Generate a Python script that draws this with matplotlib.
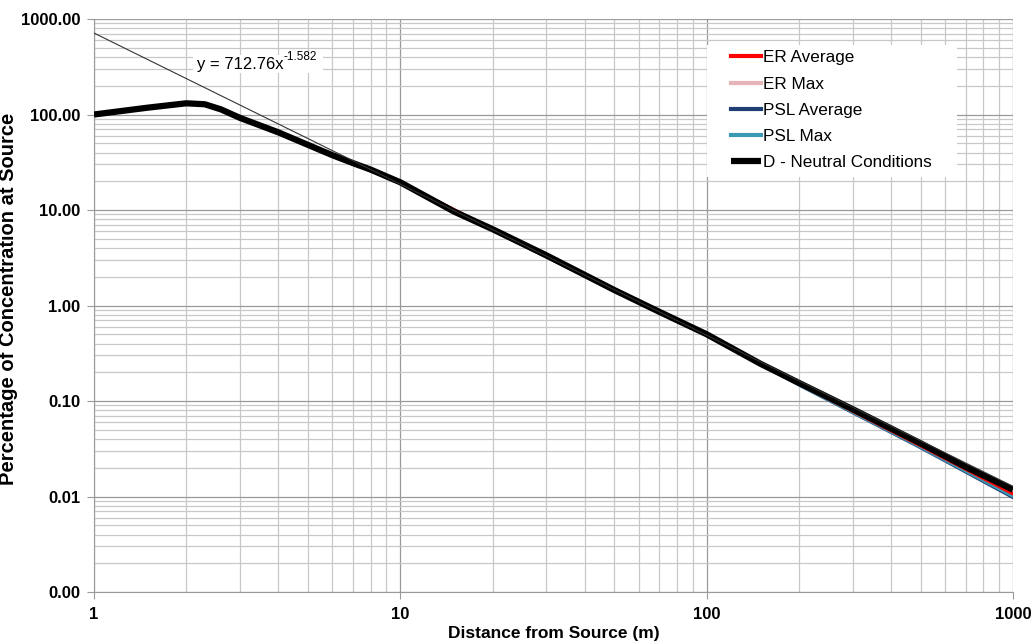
"""
Dispersion plot: concentration (% of source) vs distance, log-log,
with a power-law trendline.
"""

import numpy as np
import matplotlib.pyplot as plt
import matplotlib.ticker as ticker
from matplotlib.patches import Rectangle

# ── data ─────────────────────────────────────────────────────────────────────
dist_d = [1, 1.5, 2, 2.3, 2.6, 3, 4, 5, 6, 7, 8, 10, 15, 20, 30, 50, 70,
          100, 150, 200, 300, 500, 700, 1000]
conc_d = [100, 118, 131, 128, 113, 92, 65, 48, 37.5, 31, 26.5, 19.5, 9.6,
          6.3, 3.35, 1.45, 0.86, 0.50, 0.245, 0.155, 0.082, 0.036, 0.0205,
          0.0118]

dist_ser = [5, 7, 10, 20, 50, 100, 200, 500, 1000]
er_avg  = [48, 31, 19.4, 6.25, 1.44, 0.495, 0.152, 0.034, 0.0107]
er_max  = [48, 31, 19.4, 6.25, 1.44, 0.495, 0.151, 0.0335, 0.0104]
psl_avg = [48, 31, 19.3, 6.2, 1.43, 0.490, 0.148, 0.0325, 0.0098]
psl_max = [48, 31, 19.3, 6.2, 1.43, 0.492, 0.149, 0.033, 0.0101]

# trendline coefficients as reported on the chart
trend_a = 712.76
trend_b = -1.582

# ── plot ─────────────────────────────────────────────────────────────────────
plt.rcParams["font.family"] = ["Liberation Sans", "DejaVu Sans"]

fig = plt.figure(figsize=(10.34, 6.44), dpi=100)
ax = fig.add_axes([0.0909, 0.0807, 0.8888, 0.8898])

ax.set_xscale("log")
ax.set_yscale("log")
ax.set_xlim(1, 1000)
ax.set_ylim(0.001, 1000)

ax.plot(dist_ser, er_avg,  color="#ff0000", lw=2.5, label="ER Average", zorder=3)
ax.plot(dist_ser, er_max,  color="#e6b3b6", lw=2.5, label="ER Max", zorder=2)
ax.plot(dist_ser, psl_avg, color="#1f3e74", lw=2.5, label="PSL Average", zorder=2)
ax.plot(dist_ser, psl_max, color="#3a9ab5", lw=2.5, label="PSL Max", zorder=2)
ax.plot(dist_d, conc_d, color="black", lw=4.5, solid_capstyle="butt",
        label="D - Neutral Conditions", zorder=4)

xt = np.logspace(0, 3, 200)
ax.plot(xt, trend_a * xt ** trend_b, color="#333333", lw=0.8, zorder=5)

# trendline label with white box
ax.add_patch(Rectangle((193 / 1034, 1 - 73 / 644), 130 / 1034, 18 / 644,
                       transform=fig.transFigure, facecolor="white",
                       edgecolor="none", zorder=6))
t1 = ax.text(2.17, 330, f"y = {trend_a}x", fontsize=12, va="center",
             ha="left", zorder=7)
ax.annotate(f"{trend_b}", xy=(1, 0.62), xycoords=t1, fontsize=8.5,
            va="bottom", ha="left", zorder=7)

# grid
ax.grid(True, which="major", color="#9a9a9a", lw=0.9)
ax.grid(True, which="minor", color="#c8c8c8", lw=0.9)
ax.set_axisbelow(True)
for s in ["top", "right"]:
    ax.spines[s].set_visible(False)
for s in ["left", "bottom"]:
    ax.spines[s].set_color("#9a9a9a")

ax.xaxis.set_major_locator(ticker.LogLocator(base=10, numticks=10))
ax.xaxis.set_minor_locator(ticker.LogLocator(base=10, subs=np.arange(2, 10), numticks=20))
ax.yaxis.set_major_locator(ticker.LogLocator(base=10, numticks=10))
ax.yaxis.set_minor_locator(ticker.LogLocator(base=10, subs=np.arange(2, 10), numticks=20))
ax.xaxis.set_major_formatter(ticker.FuncFormatter(lambda v, p: f"{v:g}"))
ax.yaxis.set_major_formatter(ticker.FuncFormatter(lambda v, p: f"{v:.2f}"))
ax.xaxis.set_minor_formatter(ticker.NullFormatter())
ax.yaxis.set_minor_formatter(ticker.NullFormatter())
ax.tick_params(which="major", length=5, color="#9a9a9a", labelsize=12)
ax.tick_params(which="minor", length=0)
ax.tick_params(axis="x", pad=6)
ax.tick_params(axis="y", pad=5)
for lab in ax.get_xticklabels() + ax.get_yticklabels():
    lab.set_fontweight("bold")

ax.set_xlabel("Distance from Source (m)", fontsize=12.5, fontweight="bold")
ax.set_ylabel("Percentage of Concentration at Source", fontsize=14.5,
              fontweight="bold")
ax.xaxis.set_label_coords(0.5, -0.059)
ax.yaxis.set_label_coords(-0.083, 0.511)

# legend: white panel plus frameless legend on top
ax.add_patch(Rectangle((707 / 1034, 1 - 177 / 644), 250 / 1034, 132 / 644,
                       transform=fig.transFigure, facecolor="white",
                       edgecolor="none", zorder=8))
leg = ax.legend(loc="upper left", bbox_to_anchor=(727 / 1034, 1 - 46 / 644),
                bbox_transform=fig.transFigure, fontsize=12.3, frameon=False,
                handlelength=1.75, handletextpad=0.12, labelspacing=0.66,
                borderpad=0.25, borderaxespad=0)
for h in leg.get_lines():
    h.set_linewidth(3)
leg.get_lines()[-1].set_linewidth(4.5)
leg.set_zorder(10)

fig.savefig("out.png", dpi=100)
